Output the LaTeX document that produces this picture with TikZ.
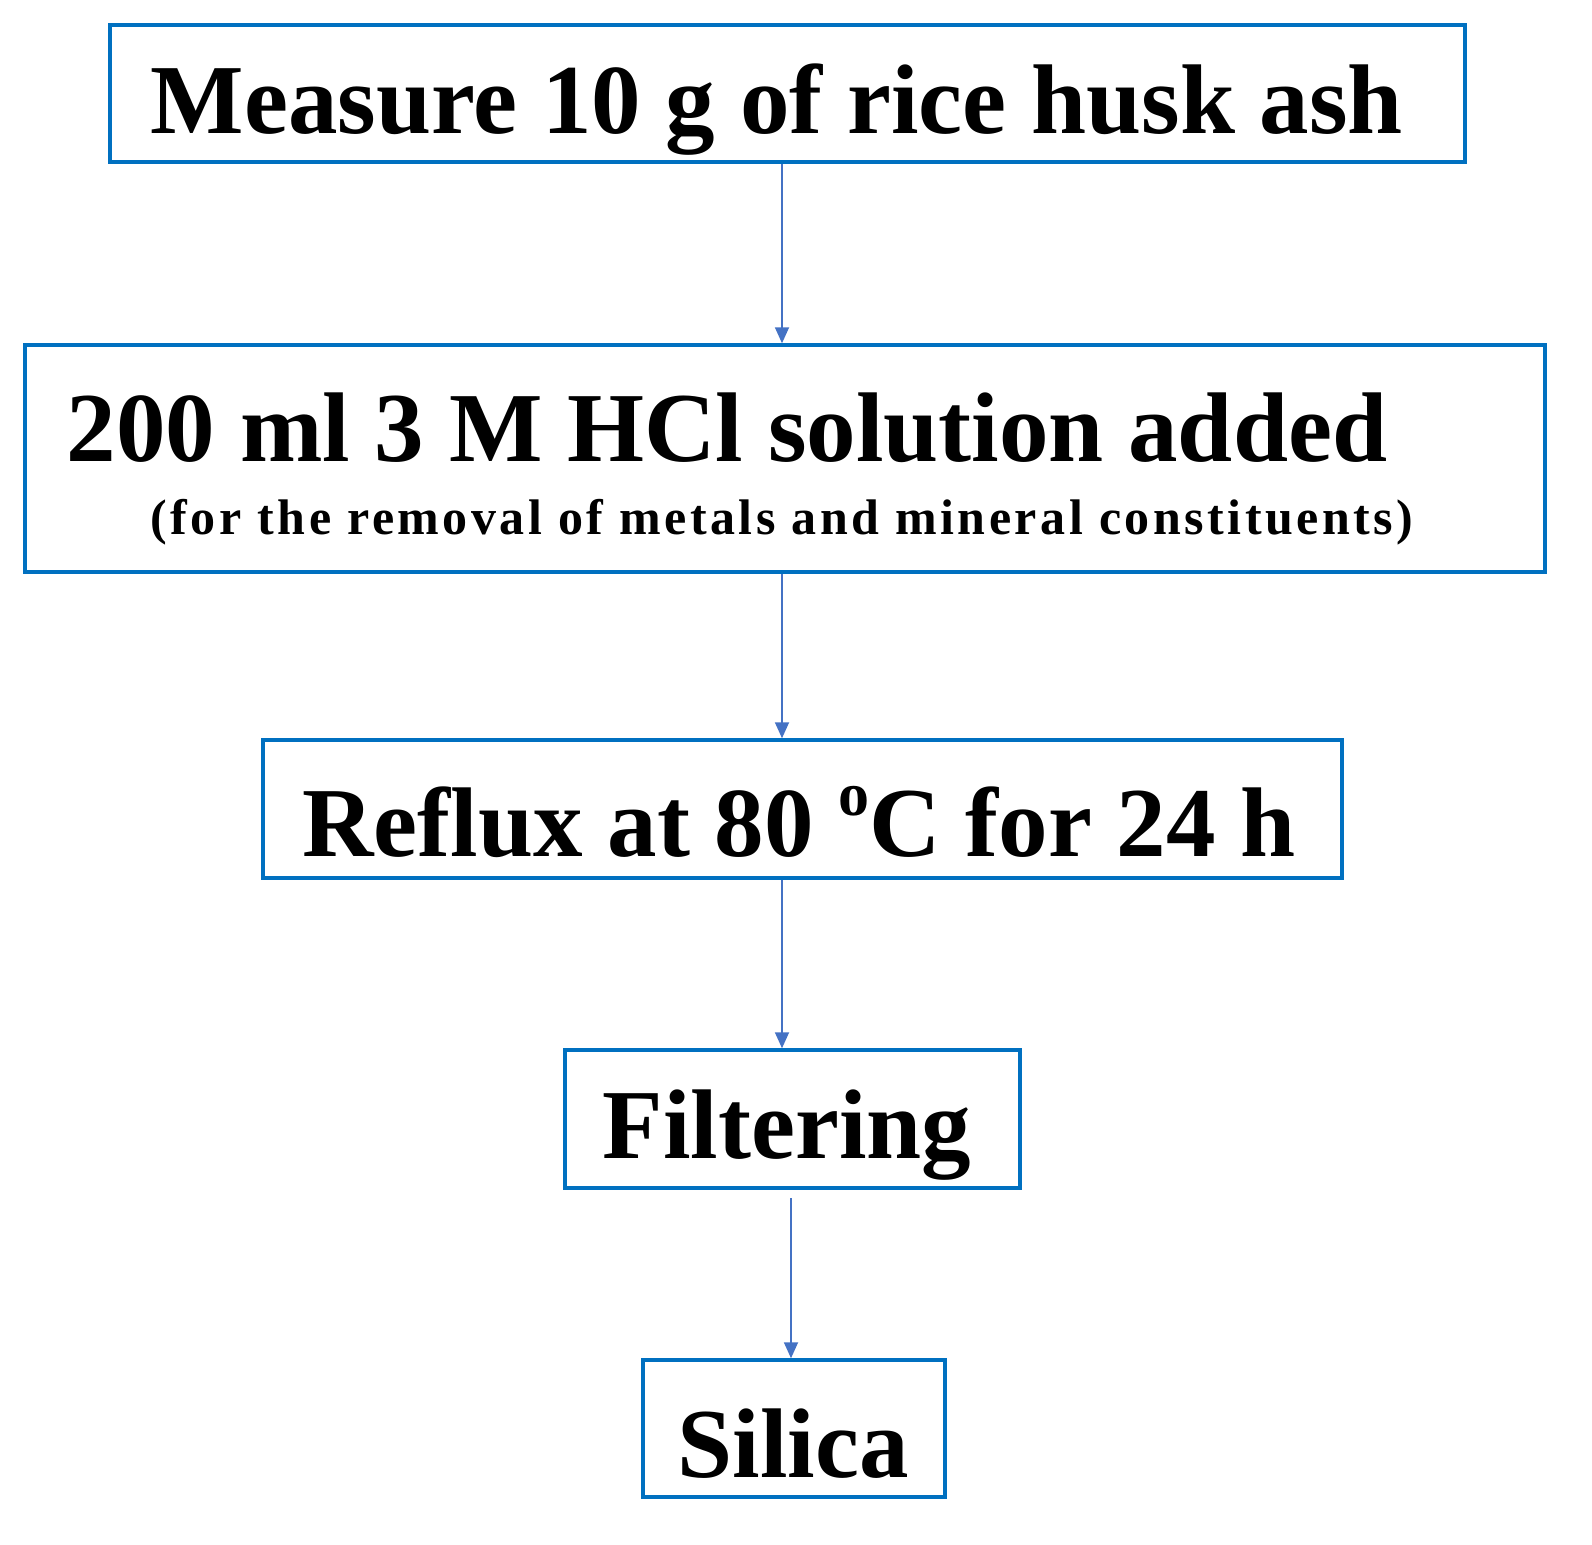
\documentclass[tikz,border=0pt]{standalone}
\usepackage{fontspec}
\setmainfont{Liberation Serif}
\usetikzlibrary{arrows.meta}
\definecolor{bx}{RGB}{0,112,192}
\definecolor{ar}{RGB}{68,114,196}
\begin{document}
\begin{tikzpicture}[x=1pt,y=-1pt,
  box/.style={draw=bx,line width=3.5pt,inner sep=0pt},
  big/.style={font=\fontsize{99}{100}\selectfont\bfseries,inner sep=0pt},
  small/.style={font=\fontsize{50}{50}\selectfont\bfseries\addfontfeatures{LetterSpace=7},inner sep=0pt},
  arr/.style={draw=ar,line width=1.8pt,-{Triangle[length=16pt,width=14pt]}}]
\node[box,minimum width=1355pt,minimum height=137pt] (b1) at (787.5,93.5) {};
\node[box,minimum width=1520pt,minimum height=227pt] (b2) at (785,458.5) {};
\node[box,minimum width=1079pt,minimum height=138pt] (b3) at (802.5,809) {};
\node[box,minimum width=455pt,minimum height=138pt] (b4) at (792.5,1119) {};
\node[box,minimum width=302pt,minimum height=137pt] (b5) at (794,1428.5) {};
\node[big] (t1) at (777,110) {Measure 10 g of rice husk ash};
\node[big] (t2) at (727,428) {200 ml 3 M HCl solution added};
\node[small] (t2b) at (782,522) {(for the removal of metals and mineral constituents)};
\node[big] (t3) at (799,822) {Reflux at 80 \raisebox{0.42em}{\fontsize{62}{62}\selectfont o}C for 24 h};
\node[big] (t4) at (787,1135) {Filtering};
\node[big] (t5) at (793,1444) {Silica};
\draw[arr] (b1.south -| 782,0) -- (b2.north -| 782,0);
\draw[arr] (b2.south -| 782,0) -- (b3.north -| 782,0);
\draw[arr] (b3.south -| 782,0) -- (b4.north -| 782,0);
\coordinate (s4) at (791,1198);
\draw[arr] (s4) -- (b5.north -| 791,0);
\pgfresetboundingbox
\useasboundingbox (0,0) rectangle (1592,1544);
\end{tikzpicture}
\end{document}
